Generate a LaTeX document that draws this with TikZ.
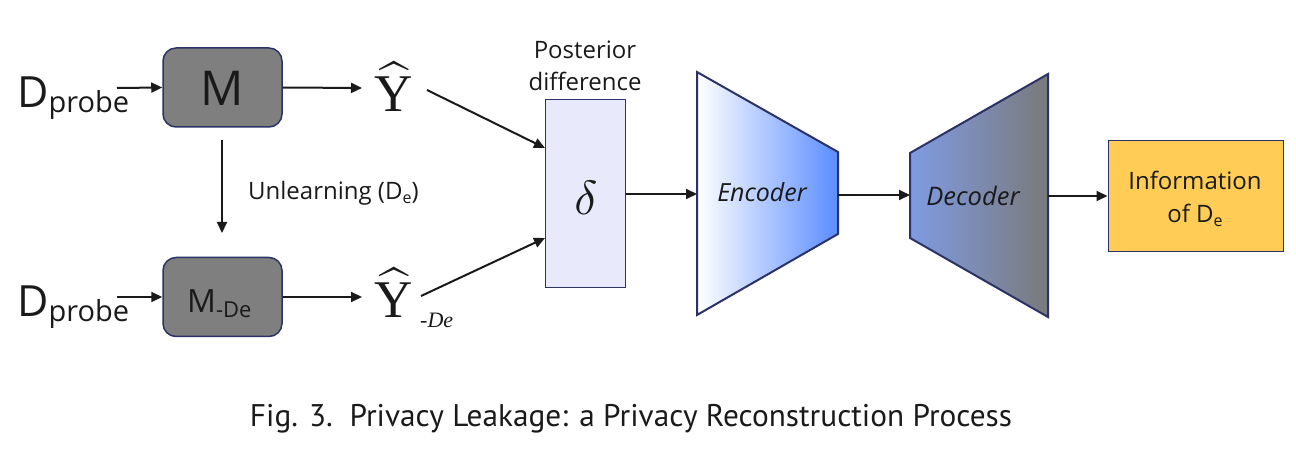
\documentclass[tikz,border=0pt]{standalone}
\usepackage{fontspec}
\usepackage{graphicx}
\usetikzlibrary{arrows.meta,calc}
\newfontfamily\uif{Open Sans}
\newfontfamily\tmsf{Liberation Serif}
\newfontfamily\capf{PT Sans}
\definecolor{navy}{HTML}{2B3366}
\definecolor{boxgray}{HTML}{7F7F7F}
\definecolor{deltafill}{HTML}{E8EAFC}
\definecolor{encblue}{HTML}{5B8DFF}
\definecolor{decblue}{HTML}{7F9BE3}
\definecolor{decgray}{HTML}{7A7A7A}
\definecolor{infofill}{HTML}{FFCC55}
\definecolor{txt}{HTML}{1A1A1A}
\tikzset{
  conn/.style={line width=2pt, draw=txt, -{Triangle[length=11pt,width=10pt]}},
  modelbox/.style={draw=navy, line width=1.5pt, fill=boxgray, rounded corners=13pt,
    minimum width=119pt, minimum height=79pt, inner sep=0pt},
  lbl/.style={inner sep=0pt, text=txt, font=\uif},
}
\begin{document}
\begin{tikzpicture}[x=1pt,y=-1pt]
\useasboundingbox (0,0) rectangle (1296,454);

% Input labels
\node[lbl, anchor=base west] (dp1) at (17,108) {\fontsize{43}{43}\selectfont D\raisebox{-5pt}{\fontsize{29}{29}\selectfont probe}};
\node[lbl, anchor=base west] (dp2) at (17,317) {\fontsize{43}{43}\selectfont D\raisebox{-5pt}{\fontsize{29}{29}\selectfont probe}};
\coordinate (dp1s) at (117,88);
\coordinate (dp2s) at (117,297);

% Models
\node[modelbox] (m1) at (222.5,87.5) {};
\node[lbl, anchor=base] (m1t) at (222,106) {\fontsize{48}{48}\selectfont M};
\node[modelbox] (m2) at (222.5,297) {};
\node[lbl, anchor=base west] (m2t) at (187,313) {\fontsize{32}{32}\selectfont M\raisebox{-5pt}{\fontsize{22}{22}\selectfont -De}};

% Posteriors
\node[inner sep=0pt, anchor=base, text=txt] (y1) at (394,112) {\scalebox{5.3}{$\widehat{\hbox{\tmsf Y}}$}};
\node[inner sep=0pt, anchor=base, text=txt] (y2) at (394,318) {\scalebox{5.3}{$\widehat{\hbox{\tmsf Y}}$}};
\node[inner sep=0pt, anchor=base west, text=txt, font=\fontsize{22}{22}\selectfont\tmsf\itshape] (y2s) at (420,327) {-De};
\coordinate (y1s) at (427,90);
\coordinate (y2s0) at (421,296);

% Delta box
\node[draw=navy, line width=1pt, fill=deltafill, minimum width=80pt, minimum height=188pt, inner sep=0pt] (delta) at (585,194) {};
\node[inner sep=0pt, text=txt] (dsym) at (586,198) {\scalebox{4.8}{$\delta$}};
\node[lbl, align=center, anchor=base, font=\uif\fontsize{24}{32}\selectfont] (post) at (585,91) {Posterior\\difference};
\coordinate (din1) at (545,148);
\coordinate (din2) at (545,238);

% Encoder
\shadedraw[left color=white, right color=encblue, draw=navy, line width=2pt, line join=miter]
  (697,72) -- (838,152) -- (838,234) -- (697,315) -- cycle;
\coordinate (encL) at (697,194);
\coordinate (encR) at (838,195);
\node[lbl, font=\uif\itshape\fontsize{25}{25}\selectfont] (enct) at (762,192) {Encoder};

% Decoder
\shadedraw[left color=decblue, right color=decgray, draw=navy, line width=2pt, line join=miter]
  (910,153) -- (1048,74) -- (1048,317) -- (910,238) -- cycle;
\coordinate (decL) at (910,195);
\coordinate (decR) at (1048,196);
\node[lbl, font=\uif\itshape\fontsize{25.5}{25.5}\selectfont] (dect) at (973,196) {Decoder};

% Information box
\node[draw=navy, line width=1pt, fill=infofill, minimum width=175pt, minimum height=111pt, inner sep=0pt] (info) at (1195.5,196.5) {};
\node[lbl, align=center, anchor=base, font=\uif\fontsize{24}{33}\selectfont] (infot) at (1195,223) {Information\\of D\raisebox{-4pt}{\fontsize{16}{16}\selectfont e}};

% Unlearning label
\node[lbl, anchor=base west, font=\uif\fontsize{24}{24}\selectfont] (unl) at (248,200) {Unlearning (D\raisebox{-4pt}{\fontsize{16}{16}\selectfont e})};

% Connectors
\draw[conn] (dp1s) -- (m1.west);
\draw[conn] (dp2s) -- (m2.west);
\draw[conn] (m1.east) -- (362,88) coordinate (y1in);
\draw[conn] (m2.east) -- (362,297) coordinate (y2in);
\draw[conn] (222,140) coordinate (ustart) -- (222,233) coordinate (uend);
\draw[conn] (y1s) -- (din1);
\draw[conn] (y2s0) -- (din2);
\draw[conn] (delta.east |- encL) -- (encL);
\draw[conn] (encR) -- (decL);
\draw[conn] (decR) -- (info.west |- decR);

% Caption
\node[inner sep=0pt, anchor=base, text=txt, font=\capf\fontsize{31.3}{31.3}\selectfont] (cap) at (631,426) {Fig. 3.\ \ Privacy Leakage: a Privacy Reconstruction Process};
\end{tikzpicture}
\end{document}
